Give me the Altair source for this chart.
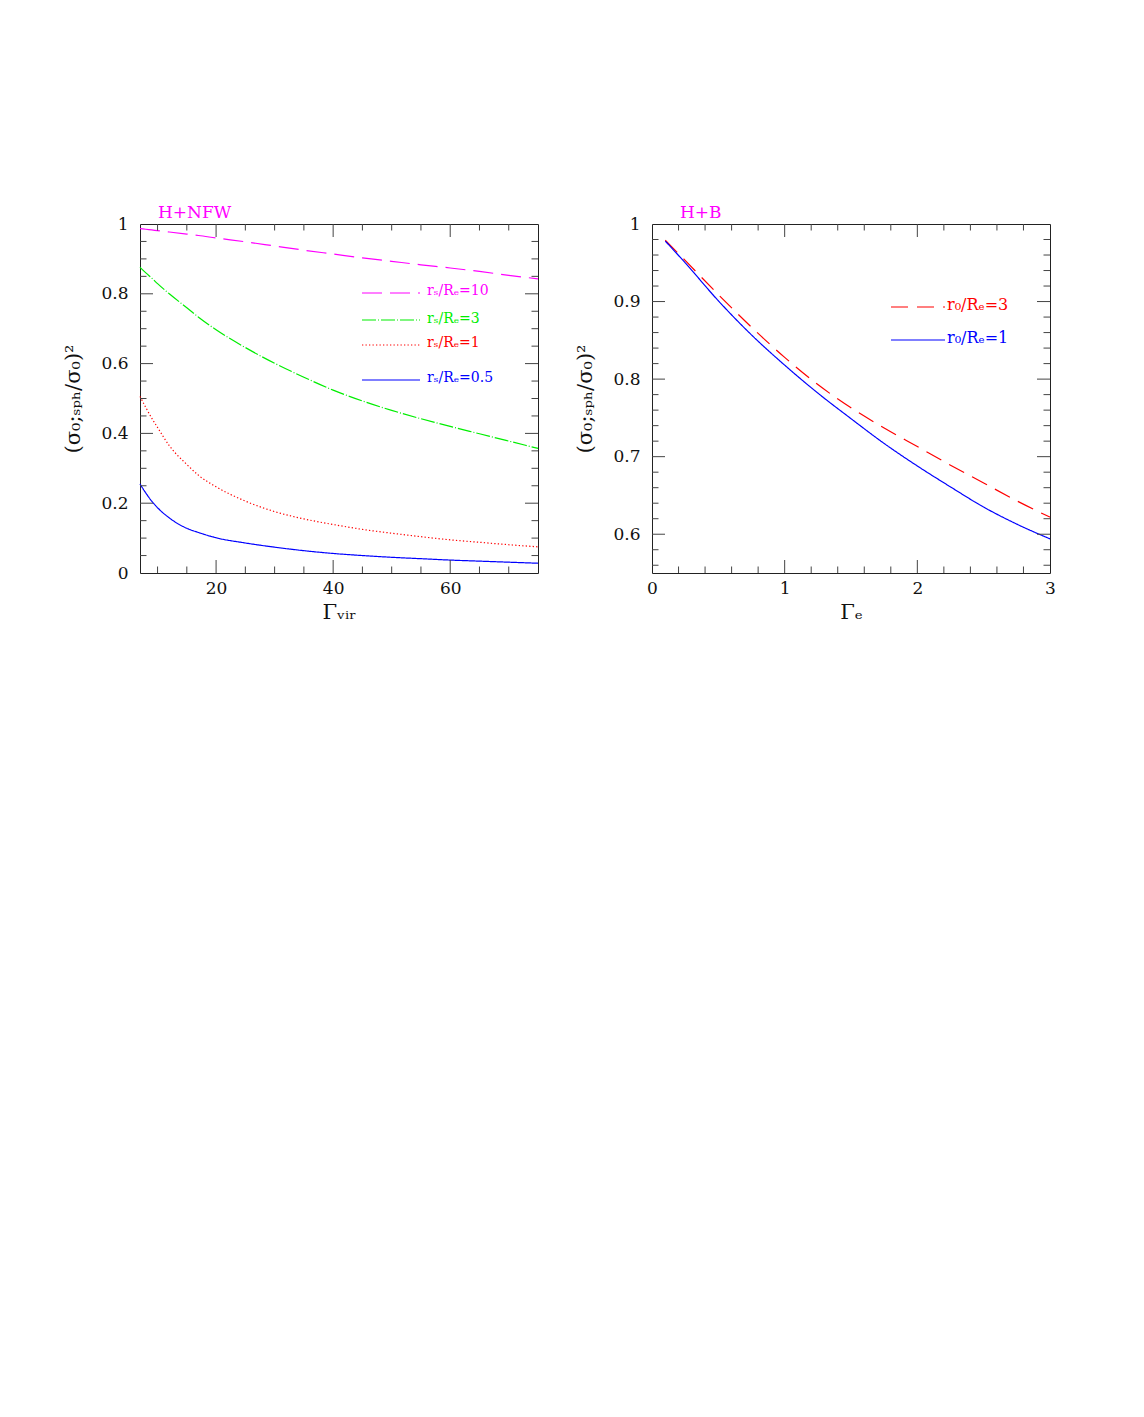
import altair as alt
import pandas as pd

# ---------------- data ----------------
# Left panel: H+NFW
nfw_gamma = [7, 8, 9, 10, 12, 15, 17, 20, 25, 30, 35, 40, 45, 50, 55, 60, 65, 70, 75]
nfw_rs10 = [0.987, 0.985, 0.983, 0.981, 0.977, 0.971, 0.967, 0.960, 0.949, 0.937, 0.925,
            0.914, 0.903, 0.893, 0.883, 0.874, 0.864, 0.853, 0.843]
nfw_rs3 = [0.876, 0.860, 0.845, 0.829, 0.800, 0.760, 0.733, 0.697, 0.646, 0.601, 0.561,
           0.524, 0.493, 0.466, 0.442, 0.420, 0.399, 0.378, 0.357]
nfw_rs1 = [0.506, 0.474, 0.444, 0.417, 0.365, 0.311, 0.280, 0.247, 0.206, 0.176, 0.155,
           0.139, 0.125, 0.114, 0.104, 0.095, 0.088, 0.081, 0.075]
nfw_rs05 = [0.255, 0.229, 0.206, 0.187, 0.158, 0.128, 0.116, 0.101, 0.086, 0.074, 0.064,
            0.056, 0.050, 0.045, 0.041, 0.037, 0.034, 0.031, 0.028]
nfw_labels = ["rₛ/Rₑ=10", "rₛ/Rₑ=3", "rₛ/Rₑ=1", "rₛ/Rₑ=0.5"]

# Right panel: H+B
b_gamma = [0.1, 0.25, 0.5, 0.75, 1.0, 1.25, 1.5, 1.75, 2.0, 2.25, 2.5, 2.75, 3.0]
b_r3 = [0.979, 0.953, 0.909, 0.867, 0.828, 0.793, 0.763, 0.737, 0.713, 0.689, 0.666, 0.643, 0.622]
b_r1 = [0.978, 0.950, 0.901, 0.857, 0.818, 0.782, 0.749, 0.717, 0.688, 0.661, 0.635, 0.613, 0.594]
b_labels = ["r₀/Rₑ=3", "r₀/Rₑ=1"]

# Axis ticks
nfw_xlabels = [20, 40, 60]
nfw_xmajor = [20, 40, 60]
nfw_xminor = [10, 15, 25, 30, 35, 45, 50, 55, 65, 70]
nfw_ylabels = [0, 0.2, 0.4, 0.6, 0.8, 1]
nfw_ymajor = [0.2, 0.4, 0.6, 0.8]
nfw_yminor = [0.05, 0.1, 0.15, 0.25, 0.3, 0.35, 0.45, 0.5, 0.55, 0.65, 0.7, 0.75, 0.85, 0.9, 0.95]

b_xlabels = [0, 1, 2, 3]
b_xmajor = [1, 2]
b_xminor = [0.2, 0.4, 0.6, 0.8, 1.2, 1.4, 1.6, 1.8, 2.2, 2.4, 2.6, 2.8]
b_ylabels = [0.6, 0.7, 0.8, 0.9, 1]
b_ymajor = [0.6, 0.7, 0.8, 0.9]
b_yminor = [0.56, 0.58, 0.62, 0.64, 0.66, 0.68, 0.72, 0.74, 0.76, 0.78,
            0.82, 0.84, 0.86, 0.88, 0.92, 0.94, 0.96, 0.98]

# ---------------- styles ----------------
FONT = "DejaVu Serif"
W, H = 398, 349
MAJ, MIN = 13, 6.5
TICK = "#444444"
YTITLE = "(σ₀;ₛₚₕ/σ₀)²"

nfw_colors = ["#ff00ff", "#00ee00", "#ff0000", "#0000ff"]
nfw_dashes = [[20, 8], [14, 2, 1, 2], [1.3, 2.2], [1, 0]]
b_colors = ["#ff0000", "#0000ff"]
b_dashes = [[17, 9], [1, 0]]


def make_axes(xlabels, ylabels, xtitle):
    xa = alt.Axis(values=xlabels, title=xtitle, ticks=False, domain=False,
                  grid=False, labelFlush=False, labelPadding=7,
                  titlePadding=5, format="~r")
    ya = alt.Axis(values=ylabels, title=YTITLE, ticks=False,
                  domain=False, grid=False, labelFlush=False,
                  labelPadding=12, titlePadding=17, format="~r")
    return xa, ya


def tick_layers(xdom, ydom, xa, ya, xmaj, xmin, ymaj, ymin):
    layers = []
    for vals, ln in ((xmaj, MAJ), (xmin, MIN)):
        df = pd.DataFrame({"v": vals})
        xe = alt.X("v:Q", axis=xa, scale=alt.Scale(domain=xdom, nice=False, zero=False))
        base = alt.Chart(df).mark_rule(color=TICK, strokeWidth=1)
        layers.append(base.encode(x=xe, y=alt.value(H), y2=alt.value(H - ln)))
        layers.append(base.encode(x=xe, y=alt.value(0), y2=alt.value(ln)))
    for vals, ln in ((ymaj, MAJ), (ymin, MIN)):
        df = pd.DataFrame({"v": vals})
        ye = alt.Y("v:Q", axis=ya, scale=alt.Scale(domain=ydom, nice=False, zero=False))
        base = alt.Chart(df).mark_rule(color=TICK, strokeWidth=1)
        layers.append(base.encode(y=ye, x=alt.value(0), x2=alt.value(ln)))
        layers.append(base.encode(y=ye, x=alt.value(W), x2=alt.value(W - ln)))
    return layers


def legend_layers(labels, colors, dashes, x0, x1, xt, ys, yts, fs):
    layers = []
    for lab, col, dash, y, yt in zip(labels, colors, dashes, ys, yts):
        d = alt.Data(values=[{"label": lab}])
        layers.append(
            alt.Chart(d).mark_rule(color=col, strokeWidth=1.2, strokeDash=dash)
            .encode(x=alt.value(x0), x2=alt.value(x1), y=alt.value(y))
        )
        layers.append(
            alt.Chart(d).mark_text(align="left", baseline="middle", font=FONT,
                                   fontSize=fs, color=col)
            .encode(x=alt.value(xt), y=alt.value(yt), text="label:N")
        )
    return layers


def panel(gamma, series, labels, colors, dashes, xdom, ydom, xlabels, ylabels,
          xmaj, xmin, ymaj, ymin, xtitle, title, title_dx, leg):
    rows = []
    for lab, vals in zip(labels, series):
        for g, v in zip(gamma, vals):
            rows.append({"g": g, "v": v, "s": lab})
    df = pd.DataFrame(rows)
    xa, ya = make_axes(xlabels, ylabels, xtitle)
    lines = alt.Chart(df).mark_line(strokeWidth=1.2, interpolate="monotone").encode(
        x=alt.X("g:Q", scale=alt.Scale(domain=xdom, nice=False, zero=False), axis=xa),
        y=alt.Y("v:Q", scale=alt.Scale(domain=ydom, nice=False, zero=False), axis=ya),
        color=alt.Color("s:N", scale=alt.Scale(domain=labels, range=colors), legend=None),
        strokeDash=alt.StrokeDash("s:N", scale=alt.Scale(domain=labels, range=dashes),
                                  legend=None),
        detail="s:N",
    )
    layers = [lines] + tick_layers(xdom, ydom, xa, ya, xmaj, xmin, ymaj, ymin) + \
        legend_layers(labels, colors, dashes, *leg)
    return alt.layer(*layers).properties(
        width=W, height=H,
        title=alt.Title(title, anchor="start", frame="group", dx=title_dx,
                        color="#ff00ff", font=FONT, fontSize=17, fontWeight="normal",
                        offset=-7),
    )


left = panel(nfw_gamma, [nfw_rs10, nfw_rs3, nfw_rs1, nfw_rs05], nfw_labels,
             nfw_colors, nfw_dashes, [7, 75], [0, 1], nfw_xlabels, nfw_ylabels,
             nfw_xmajor, nfw_xminor, nfw_ymajor, nfw_yminor, "Γᵥᵢᵣ", "H+NFW", 18,
             (222, 280, 287, [69, 96, 121, 156], [67, 95, 119, 154], 14))

right = panel(b_gamma, [b_r3, b_r1], b_labels, b_colors, b_dashes,
              [0, 3], [0.55, 1], b_xlabels, b_ylabels,
              b_xmajor, b_xminor, b_ymajor, b_yminor, "Γₑ", "H+B", 28,
              (239, 293, 295, [83, 116], [81, 114], 16))

chart = alt.hconcat(left, right, spacing=33).resolve_scale(
    color="independent", strokeDash="independent"
).properties(
    padding={"left": 54, "top": 195, "right": 5, "bottom": 5}
).configure_view(stroke="#222222", strokeWidth=1).configure_axis(
    labelFont=FONT, labelFontSize=17, labelColor="#111111",
    titleFont=FONT, titleFontSize=21, titleFontWeight="normal", titleColor="#111111",
)

chart.save("out.html", embed_options={"renderer": "svg", "actions": False})
